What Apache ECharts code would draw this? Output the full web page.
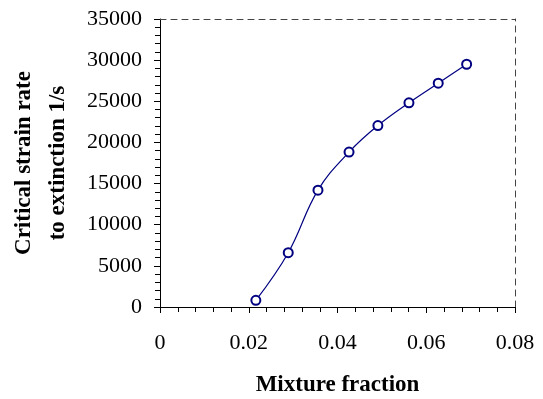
<!DOCTYPE html>
<html>
<head>
<meta charset="utf-8">
<script src="https://cdn.jsdelivr.net/npm/echarts@6/dist/echarts.min.js"></script>
<style>html,body{margin:0;padding:0;background:#fff}#c{width:543px;height:399px}</style>
</head>
<body>
<div id="c"></div>
<script>
var mixtureFraction = [0.0216, 0.0289, 0.0356, 0.0426, 0.0491, 0.0561, 0.0627, 0.0691];
var strainRate = [810, 6600, 14200, 18830, 22050, 24820, 27200, 29500];
var xTicks = [0, 0.02, 0.04, 0.06, 0.08];
var yTicks = [0, 5000, 10000, 15000, 20000, 25000, 30000, 35000];

var pts = mixtureFraction.map(function (x, i) { return [x, strainRate[i]]; });
var font = 'Liberation Serif';
var chart = echarts.init(document.getElementById('c'));
chart.setOption({
  animation: false,
  grid: { left: 160, right: 28, top: 19, bottom: 92, containLabel: false, outerBoundsMode: 'none' },
  xAxis: [{
    type: 'value', min: xTicks[0], max: xTicks[xTicks.length - 1], interval: 0.02,
    axisLine: { onZero: false, lineStyle: { color: '#000', width: 1 } },
    axisTick: { show: true, length: 6, lineStyle: { color: '#000' } },
    minorTick: { show: true, splitNumber: 5, length: 5, lineStyle: { color: '#000' } },
    splitLine: { show: false },
    axisLabel: { color: '#000', fontFamily: font, fontSize: 22, margin: 25,
      formatter: function (v) { return v === 0 ? '0' : v.toFixed(2); } },
    name: 'Mixture fraction', nameLocation: 'middle', nameGap: 67,
    nameTextStyle: { color: '#000', fontFamily: font, fontSize: 23, fontWeight: 'bold' }
  }, {
    type: 'value', position: 'top', min: 0, max: 0.08,
    axisLine: { show: true, onZero: false, lineStyle: { color: '#444', type: [6, 5], width: 1 } },
    axisTick: { show: false }, axisLabel: { show: false }, splitLine: { show: false }
  }],
  yAxis: [{
    type: 'value', min: yTicks[0], max: yTicks[yTicks.length - 1], interval: 5000,
    axisLine: { show: true, onZero: false, lineStyle: { color: '#000', width: 1 } },
    axisTick: { show: true, length: 6, lineStyle: { color: '#000' } },
    minorTick: { show: true, splitNumber: 5, length: 5, lineStyle: { color: '#000' } },
    splitLine: { show: false },
    axisLabel: { color: '#000', fontFamily: font, fontSize: 22, margin: 18,
      formatter: function (v) { return String(v); } },
    name: 'Critical strain rate\nto extinction 1/s', nameLocation: 'middle', nameGap: 85, nameRotate: 90,
    nameTextStyle: { color: '#000', fontFamily: font, fontSize: 23, fontWeight: 'bold', lineHeight: 34 }
  }, {
    type: 'value', position: 'right', min: 0, max: 35000,
    axisLine: { show: true, onZero: false, lineStyle: { color: '#444', type: [6, 5], width: 1 } },
    axisTick: { show: false }, axisLabel: { show: false }, splitLine: { show: false }
  }],
  series: [{
    type: 'line', data: pts, smooth: 0.4,
    symbol: 'emptyCircle', symbolSize: 9,
    lineStyle: { color: '#000080', width: 1.2 },
    itemStyle: { color: '#000080', borderWidth: 1 }
  }]
});
</script>
</body>
</html>
